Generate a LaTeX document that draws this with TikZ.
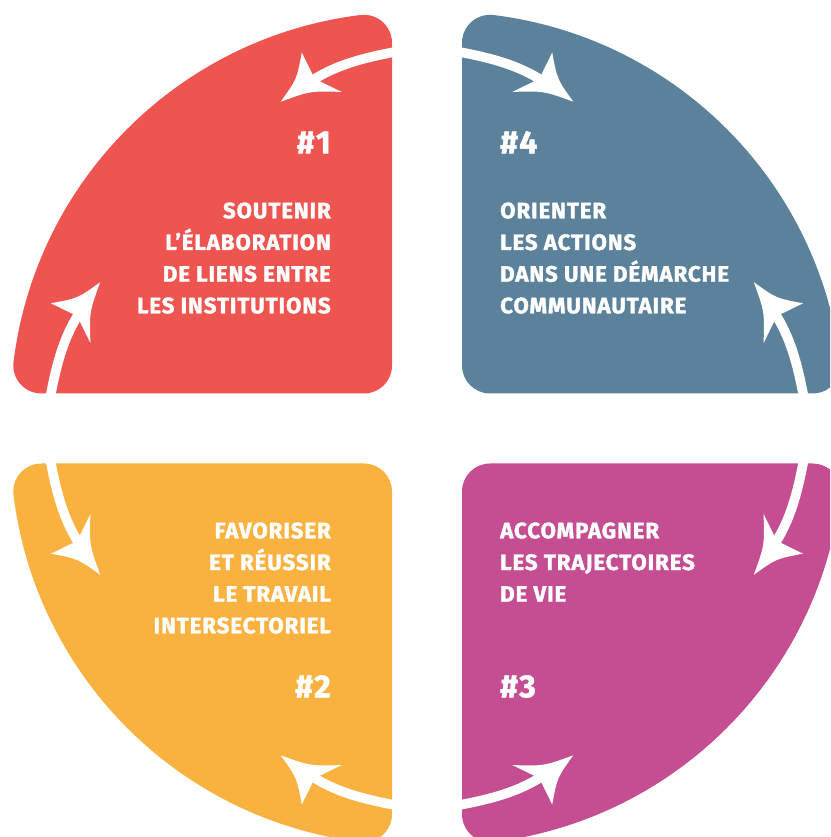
\documentclass[tikz,border=0pt]{standalone}
\usepackage{fontspec}
\setmainfont{Fira Sans}[BoldFeatures={FakeBold=1.6}, LetterSpace=4]
\definecolor{redc}{RGB}{238,84,80}
\definecolor{bluec}{RGB}{92,130,155}
\definecolor{yellowc}{RGB}{249,177,64}
\definecolor{magc}{RGB}{197,77,145}
\tikzset{
  lbl/.style={text=white, inner sep=0pt, font=\bfseries\fontsize{22.3}{26}\selectfont},
  num/.style={text=white, inner sep=0pt, font=\bfseries\fontsize{32}{36}\selectfont},
  shaft/.style={draw=white, line width=9.6pt}
}
\newcommand{\myquarter}[1]{%
  \fill[#1] (-385.7,35) -- (-63,35) arc[start angle=270, end angle=360, radius=28]
    -- (-35,385.7) arc[start angle=0, end angle=97.045, radius=28]
    arc[start angle=97.045, end angle=172.955, radius=399]
    arc[start angle=172.955, end angle=270, radius=28] -- cycle;}
\newcommand{\myarrowone}{%
  \draw[shaft] (-33,376.4) .. controls (-64.5,370.4) and (-92.4,363.2) .. (-117.3,346.4);
  \fill[white, shift={(-146.3,326.8)}, rotate=214] (0,0) .. controls (-25.8,-9.5) .. (-45,-29)
     -- (-41,0) -- (-56,26) .. controls (-30.5,7.6) .. (0,0) -- cycle;}
\newcommand{\myarrowpair}{%
  \myarrowone
  \begin{scope}[cm={0,-1,-1,0,(0,0)}]\myarrowone\end{scope}}
\begin{document}
\begin{tikzpicture}[x=1pt,y=1pt]
\useasboundingbox (-427,-408.5) rectangle (403,428.5);
\clip (-427,-408.5) rectangle (403,428.5);
% quadrant shapes
\myquarter{redc}
\begin{scope}[xscale=-1]\myquarter{bluec}\end{scope}
\begin{scope}[yscale=-1]\myquarter{yellowc}\end{scope}
\begin{scope}[xscale=-1,yscale=-1]\myquarter{magc}\end{scope}
% arrows
\myarrowpair
\begin{scope}[xscale=-1]\myarrowpair\end{scope}
\begin{scope}[yscale=-1]\myarrowpair\end{scope}
\begin{scope}[xscale=-1,yscale=-1]\myarrowpair\end{scope}
% texts #1
\node[num, anchor=base east] (n1) at (-96,275.2) {\#1};
\node[lbl, anchor=base east] (t1a) at (-96,210.2) {SOUTENIR};
\node[lbl, anchor=base east] (t1b) at (-96,178.5) {L’ÉLABORATION};
\node[lbl, anchor=base east] (t1c) at (-96,146.8) {DE LIENS ENTRE};
\node[lbl, anchor=base east] (t1d) at (-96,115.2) {LES INSTITUTIONS};
% texts #4
\node[num, anchor=base west] (n4) at (73,275.2) {\#4};
\node[lbl, anchor=base west] (t4a) at (73,210.2) {ORIENTER};
\node[lbl, anchor=base west] (t4b) at (73,178.5) {LES ACTIONS};
\node[lbl, anchor=base west] (t4c) at (73,146.8) {DANS UNE DÉMARCHE};
\node[lbl, anchor=base west] (t4d) at (73,115.2) {COMMUNAUTAIRE};
% texts #2
\node[lbl, anchor=base east] (t2a) at (-96,-109.8) {FAVORISER};
\node[lbl, anchor=base east] (t2b) at (-96,-141.5) {ET RÉUSSIR};
\node[lbl, anchor=base east] (t2c) at (-96,-173.2) {LE TRAVAIL};
\node[lbl, anchor=base east] (t2d) at (-96,-204.8) {INTERSECTORIEL};
\node[num, anchor=base east] (n2) at (-96,-268.8) {\#2};
% texts #3
\node[lbl, anchor=base west] (t3a) at (73,-109.8) {ACCOMPAGNER};
\node[lbl, anchor=base west] (t3b) at (73,-141.5) {LES TRAJECTOIRES};
\node[lbl, anchor=base west] (t3c) at (73,-173.2) {DE VIE};
\node[num, anchor=base west] (n3) at (73,-268.8) {\#3};
\end{tikzpicture}
\end{document}
